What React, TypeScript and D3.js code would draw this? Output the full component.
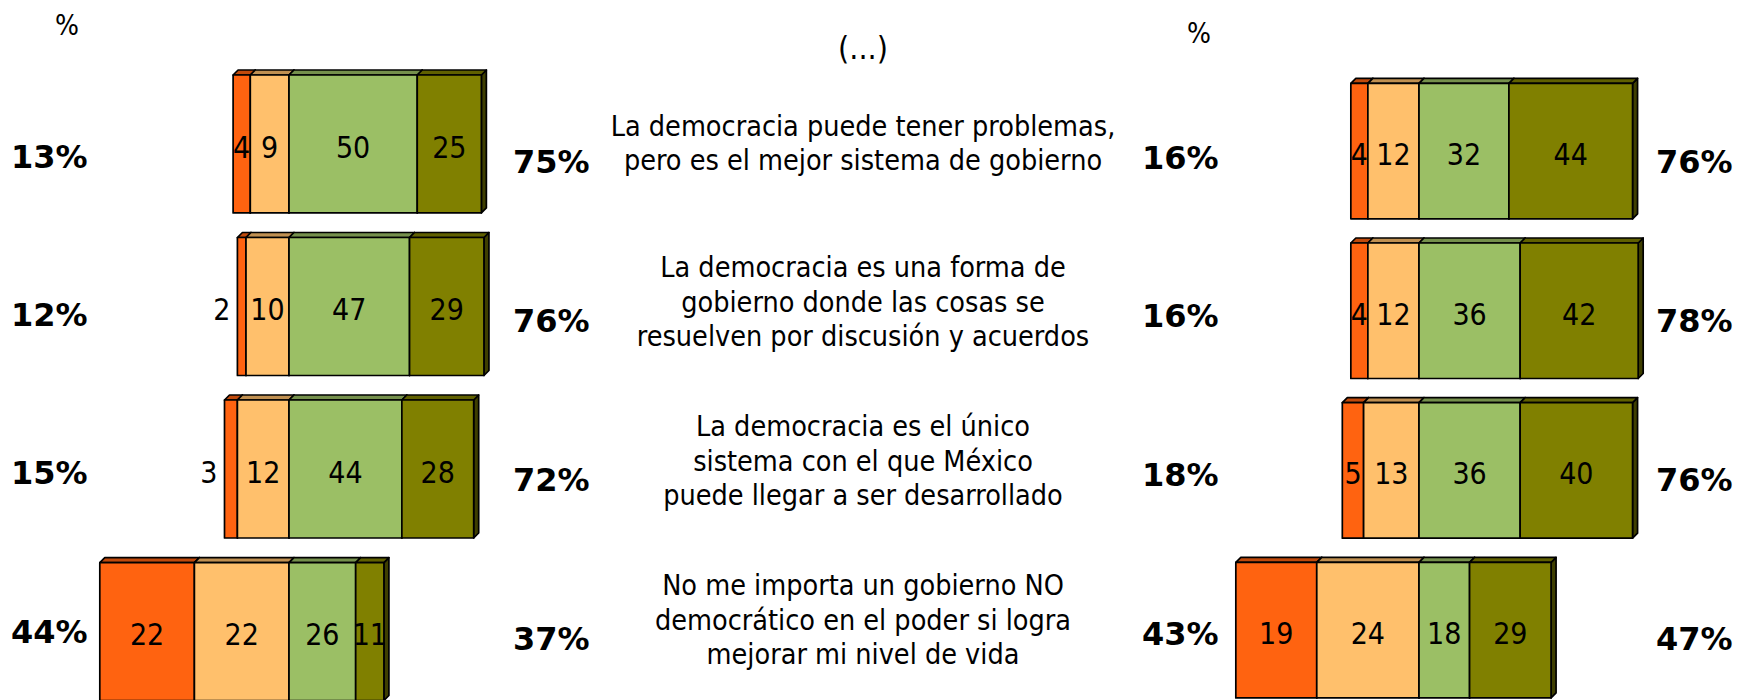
import React from 'react';
import * as d3 from 'd3';

const width = 1746;
const height = 700;
const font = "'DejaVu Sans Condensed', 'Noto Sans', sans-serif";
const boldFont = "'DejaVu Sans', sans-serif";
const depth = 5;

const statements = [
  ['La democracia puede tener problemas,', 'pero es el mejor sistema de gobierno'],
  ['La democracia es una forma de', 'gobierno donde las cosas se', 'resuelven por discusión y acuerdos'],
  ['La democracia es el único', 'sistema con el que México', 'puede llegar a ser desarrollado'],
  ['No me importa un gobierno NO', 'democrático en el poder si logra', 'mejorar mi nivel de vida'],
];

// muy en desacuerdo, algo en desacuerdo, algo de acuerdo, muy de acuerdo
const colors = ['#ff6310', '#ffc06c', '#9bbf65', '#808000'];

const leftMuyDesacuerdo = [4, 2, 3, 22];
const leftAlgoDesacuerdo = [9, 10, 12, 22];
const leftAlgoAcuerdo = [50, 47, 44, 26];
const leftMuyAcuerdo = [25, 29, 28, 11];

const rightMuyDesacuerdo = [4, 4, 5, 19];
const rightAlgoDesacuerdo = [12, 12, 13, 24];
const rightAlgoAcuerdo = [32, 36, 36, 18];
const rightMuyAcuerdo = [44, 42, 40, 29];

type Layout = {
  center: number;
  negUnit: number;
  posUnit: number;
  top: number;
  bottom: number;
  padding: number;
  negLabelX: number;
  posLabelX: number;
  negLabelY: [number, number];
  posLabelY: [number, number];
};

const leftLayout: Layout = {
  center: 289, negUnit: 4.3, posUnit: 2.565,
  top: 75, bottom: 700.5, padding: 0.151,
  negLabelX: 11, posLabelX: 513,
  negLabelY: [156, 631], posLabelY: [161, 638],
};

const rightLayout: Layout = {
  center: 1419, negUnit: 4.26, posUnit: 2.81,
  top: 83.3, bottom: 697.9, padding: 0.1515,
  negLabelX: 1142, posLabelX: 1656,
  negLabelY: [157, 633], posLabelY: [161, 638],
};

type PanelProps = {
  series: number[][];
  layout: Layout;
};

const Panel: React.FC<PanelProps> = ({series, layout}) => {
  const n = series[0].length;
  const x = d3.scaleLinear()
    .domain([-50, 0, 100])
    .range([layout.center - 50 * layout.negUnit, layout.center, layout.center + 100 * layout.posUnit]);
  const y = d3.scaleBand<number>()
    .domain(d3.range(n))
    .range([layout.top, layout.bottom])
    .paddingInner(layout.padding);
  const negY = d3.scaleLinear().domain([0, n - 1]).range(layout.negLabelY);
  const posY = d3.scaleLinear().domain([0, n - 1]).range(layout.posLabelY);

  return (
    <g>
      {d3.range(n).map(i => {
        const vals = series.map(s => s[i]);
        const stops = [-(vals[0] + vals[1]), -vals[1], 0, vals[2], vals[2] + vals[3]];
        const y0 = y(i) as number;
        const h = y.bandwidth();
        return (
          <g key={i}>
            {vals.map((v, k) => {
              const x0 = x(stops[k]);
              const x1 = x(stops[k + 1]);
              const c = d3.color(colors[k])!;
              return (
                <g key={k} stroke="#000" strokeWidth={1.7} strokeLinejoin="round">
                  <path
                    d={`M${x1},${y0}L${x1 + depth},${y0 - depth}L${x1 + depth},${y0 + h - depth}L${x1},${y0 + h}Z`}
                    fill={c.darker(2).formatHex()} />
                  <path
                    d={`M${x0},${y0}L${x0 + depth},${y0 - depth}L${x1 + depth},${y0 - depth}L${x1},${y0}Z`}
                    fill={c.darker(0.8).formatHex()} />
                  <rect x={x0} y={y0} width={x1 - x0} height={h} fill={colors[k]} />
                </g>
              );
            })}
            {vals.map((v, k) => {
              const x0 = x(stops[k]);
              const x1 = x(stops[k + 1]);
              const outside = x1 - x0 < 15;
              return (
                <text key={k}
                  x={outside ? x0 - 7 : (x0 + x1) / 2}
                  y={y0 + h / 2 + 3}
                  dy="0.36em"
                  textAnchor={outside ? 'end' : 'middle'}
                  fontSize={30}
                  fontFamily={font}
                  fill="#000">{v}</text>
              );
            })}
            <text x={layout.negLabelX} y={negY(i)} dy="0.36em" fontSize={32} fontWeight="bold"
              fontFamily={boldFont}>{vals[0] + vals[1]}%</text>
            <text x={layout.posLabelX} y={posY(i)} dy="0.36em" fontSize={32} fontWeight="bold"
              fontFamily={boldFont}>{vals[2] + vals[3]}%</text>
          </g>
        );
      })}
    </g>
  );
};

const App: React.FC = () => {
  const rowY = d3.scaleLinear().domain([0, statements.length - 1]).range([142.5, 619.5]);
  const lineStep = 34.5;

  return (
    <svg width={width} height={height} style={{display: 'block', position: 'absolute', left: 0, top: 0}}>
      <rect width={width} height={height} fill="#fff" />
      <text x={67} y={24.5} dy="0.36em" textAnchor="middle" fontSize={28} fontFamily={font}>%</text>
      <text x={1199} y={33} dy="0.36em" textAnchor="middle" fontSize={28} fontFamily={font}>%</text>
      <text x={863} y={47} dy="0.36em" textAnchor="middle" fontSize={32} fontFamily={font}>(...)</text>

      {statements.map((lines, i) => (
        <text key={i} textAnchor="middle" fontSize={28.5} fontFamily={font}>
          {lines.map((line, j) => (
            <tspan key={j} x={863}
              y={rowY(i) + (j - (lines.length - 1) / 2) * lineStep}
              dy="0.36em">{line}</tspan>
          ))}
        </text>
      ))}

      <Panel
        series={[leftMuyDesacuerdo, leftAlgoDesacuerdo, leftAlgoAcuerdo, leftMuyAcuerdo]}
        layout={leftLayout} />
      <Panel
        series={[rightMuyDesacuerdo, rightAlgoDesacuerdo, rightAlgoAcuerdo, rightMuyAcuerdo]}
        layout={rightLayout} />
    </svg>
  );
};

export default App;
